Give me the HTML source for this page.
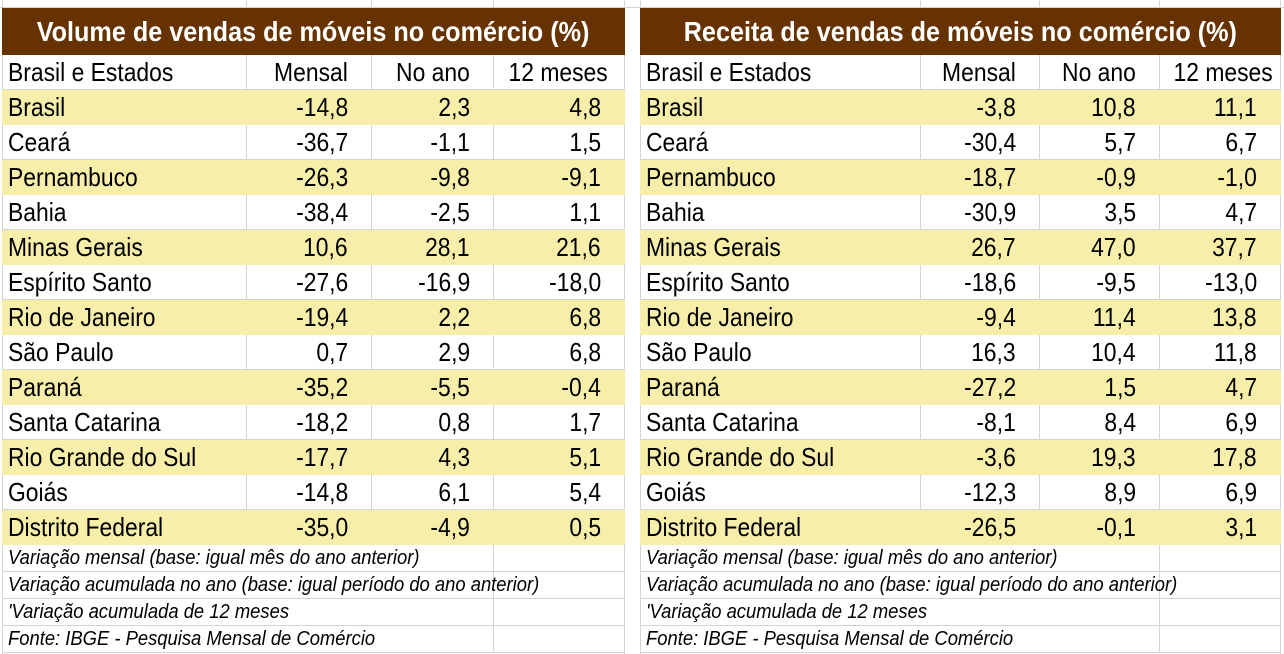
<!DOCTYPE html>
<html><head><meta charset="utf-8"><style>
body{margin:0;width:1284px;height:654px;background:#fff;position:relative;overflow:hidden;font-family:"Liberation Sans Narrow","Liberation Sans",sans-serif;}
.grid{position:absolute;left:0;top:0;width:1284px;height:654px;}
table{position:absolute;border-collapse:collapse;table-layout:fixed;top:8px;}
td{border:1px solid #d4d4d4;padding:0;white-space:nowrap;overflow:visible;font-size:26px;color:#000;height:34px;line-height:34px;}
td span{display:inline-block;transform:scaleX(.88);}
td.t{background:#663300;color:#fff;font-weight:bold;font-size:28px;text-align:center;height:45px;line-height:45px;border-color:#663300;}
td.t span{transform:scaleX(.9);transform-origin:center;}
td.n{text-align:right;padding-right:23px;}
td.n span{transform-origin:right center;}
td.l{padding-left:5px;}
td.l span{transform-origin:left center;}
tr.y td{background:#f7efa9;border-color:#f7efa9;}
tr.f td{font-size:20px;font-style:italic;height:26px;line-height:26px;overflow:visible;}
tr.f td span{transform:scaleX(.92);}
#L{left:2px;width:622px;}
#R{left:640px;width:640px;}
</style></head><body>
<svg class="grid" width="1284" height="654"><g stroke="#d4d4d4" stroke-width="1">
<line x1="0" y1="7.5" x2="1284" y2="7.5"/><line x1="2.5" y1="0" x2="2.5" y2="654"/><line x1="246.5" y1="0" x2="246.5" y2="8"/><line x1="371.5" y1="0" x2="371.5" y2="8"/><line x1="493.5" y1="0" x2="493.5" y2="8"/><line x1="624.5" y1="0" x2="624.5" y2="654"/><line x1="640.5" y1="0" x2="640.5" y2="654"/><line x1="920.5" y1="0" x2="920.5" y2="8"/><line x1="1039.5" y1="0" x2="1039.5" y2="8"/><line x1="1159.5" y1="0" x2="1159.5" y2="8"/><line x1="1280.5" y1="0" x2="1280.5" y2="654"/></g></svg>
<table id="L"><colgroup><col style="width:244px"><col style="width:125px"><col style="width:122px"><col style="width:131px"></colgroup>
<tr><td class="t" colspan="4"><span>Volume de vendas de móveis no comércio (%)</span></td></tr>
<tr><td class="l"><span>Brasil e Estados</span></td><td class="n"><span>Mensal</span></td><td class="n"><span>No ano</span></td><td class="n" style="padding-right:16px"><span>12 meses</span></td></tr>
<tr class="y"><td class="l"><span>Brasil</span></td><td class="n"><span>-14,8</span></td><td class="n"><span>2,3</span></td><td class="n"><span>4,8</span></td></tr>
<tr><td class="l"><span>Ceará</span></td><td class="n"><span>-36,7</span></td><td class="n"><span>-1,1</span></td><td class="n"><span>1,5</span></td></tr>
<tr class="y"><td class="l"><span>Pernambuco</span></td><td class="n"><span>-26,3</span></td><td class="n"><span>-9,8</span></td><td class="n"><span>-9,1</span></td></tr>
<tr><td class="l"><span>Bahia</span></td><td class="n"><span>-38,4</span></td><td class="n"><span>-2,5</span></td><td class="n"><span>1,1</span></td></tr>
<tr class="y"><td class="l"><span>Minas Gerais</span></td><td class="n"><span>10,6</span></td><td class="n"><span>28,1</span></td><td class="n"><span>21,6</span></td></tr>
<tr><td class="l"><span>Espírito Santo</span></td><td class="n"><span>-27,6</span></td><td class="n"><span>-16,9</span></td><td class="n"><span>-18,0</span></td></tr>
<tr class="y"><td class="l"><span>Rio de Janeiro</span></td><td class="n"><span>-19,4</span></td><td class="n"><span>2,2</span></td><td class="n"><span>6,8</span></td></tr>
<tr><td class="l"><span>São Paulo</span></td><td class="n"><span>0,7</span></td><td class="n"><span>2,9</span></td><td class="n"><span>6,8</span></td></tr>
<tr class="y"><td class="l"><span>Paraná</span></td><td class="n"><span>-35,2</span></td><td class="n"><span>-5,5</span></td><td class="n"><span>-0,4</span></td></tr>
<tr><td class="l"><span>Santa Catarina</span></td><td class="n"><span>-18,2</span></td><td class="n"><span>0,8</span></td><td class="n"><span>1,7</span></td></tr>
<tr class="y"><td class="l"><span>Rio Grande do Sul</span></td><td class="n"><span>-17,7</span></td><td class="n"><span>4,3</span></td><td class="n"><span>5,1</span></td></tr>
<tr><td class="l"><span>Goiás</span></td><td class="n"><span>-14,8</span></td><td class="n"><span>6,1</span></td><td class="n"><span>5,4</span></td></tr>
<tr class="y"><td class="l"><span>Distrito Federal</span></td><td class="n"><span>-35,0</span></td><td class="n"><span>-4,9</span></td><td class="n"><span>0,5</span></td></tr>
<tr class="f"><td class="l" colspan="3"><span>Variação mensal (base: igual mês do ano anterior)</span></td><td></td></tr>
<tr class="f"><td class="l" colspan="3"><span>Variação acumulada no ano (base: igual período do ano anterior)</span></td><td></td></tr>
<tr class="f"><td class="l" colspan="3"><span>'Variação acumulada de 12 meses</span></td><td></td></tr>
<tr class="f"><td class="l" colspan="3"><span>Fonte: IBGE - Pesquisa Mensal de Comércio</span></td><td></td></tr>
</table>
<table id="R"><colgroup><col style="width:280px"><col style="width:119px"><col style="width:120px"><col style="width:121px"></colgroup>
<tr><td class="t" colspan="4"><span>Receita de vendas de móveis no comércio (%)</span></td></tr>
<tr><td class="l"><span>Brasil e Estados</span></td><td class="n"><span>Mensal</span></td><td class="n"><span>No ano</span></td><td class="n" style="padding-right:10px"><span>12 meses</span></td></tr>
<tr class="y"><td class="l"><span>Brasil</span></td><td class="n"><span>-3,8</span></td><td class="n"><span>10,8</span></td><td class="n"><span>11,1</span></td></tr>
<tr><td class="l"><span>Ceará</span></td><td class="n"><span>-30,4</span></td><td class="n"><span>5,7</span></td><td class="n"><span>6,7</span></td></tr>
<tr class="y"><td class="l"><span>Pernambuco</span></td><td class="n"><span>-18,7</span></td><td class="n"><span>-0,9</span></td><td class="n"><span>-1,0</span></td></tr>
<tr><td class="l"><span>Bahia</span></td><td class="n"><span>-30,9</span></td><td class="n"><span>3,5</span></td><td class="n"><span>4,7</span></td></tr>
<tr class="y"><td class="l"><span>Minas Gerais</span></td><td class="n"><span>26,7</span></td><td class="n"><span>47,0</span></td><td class="n"><span>37,7</span></td></tr>
<tr><td class="l"><span>Espírito Santo</span></td><td class="n"><span>-18,6</span></td><td class="n"><span>-9,5</span></td><td class="n"><span>-13,0</span></td></tr>
<tr class="y"><td class="l"><span>Rio de Janeiro</span></td><td class="n"><span>-9,4</span></td><td class="n"><span>11,4</span></td><td class="n"><span>13,8</span></td></tr>
<tr><td class="l"><span>São Paulo</span></td><td class="n"><span>16,3</span></td><td class="n"><span>10,4</span></td><td class="n"><span>11,8</span></td></tr>
<tr class="y"><td class="l"><span>Paraná</span></td><td class="n"><span>-27,2</span></td><td class="n"><span>1,5</span></td><td class="n"><span>4,7</span></td></tr>
<tr><td class="l"><span>Santa Catarina</span></td><td class="n"><span>-8,1</span></td><td class="n"><span>8,4</span></td><td class="n"><span>6,9</span></td></tr>
<tr class="y"><td class="l"><span>Rio Grande do Sul</span></td><td class="n"><span>-3,6</span></td><td class="n"><span>19,3</span></td><td class="n"><span>17,8</span></td></tr>
<tr><td class="l"><span>Goiás</span></td><td class="n"><span>-12,3</span></td><td class="n"><span>8,9</span></td><td class="n"><span>6,9</span></td></tr>
<tr class="y"><td class="l"><span>Distrito Federal</span></td><td class="n"><span>-26,5</span></td><td class="n"><span>-0,1</span></td><td class="n"><span>3,1</span></td></tr>
<tr class="f"><td class="l" colspan="3"><span>Variação mensal (base: igual mês do ano anterior)</span></td><td></td></tr>
<tr class="f"><td class="l" colspan="3"><span>Variação acumulada no ano (base: igual período do ano anterior)</span></td><td></td></tr>
<tr class="f"><td class="l" colspan="3"><span>'Variação acumulada de 12 meses</span></td><td></td></tr>
<tr class="f"><td class="l" colspan="3"><span>Fonte: IBGE - Pesquisa Mensal de Comércio</span></td><td></td></tr>
</table>
</body></html>
